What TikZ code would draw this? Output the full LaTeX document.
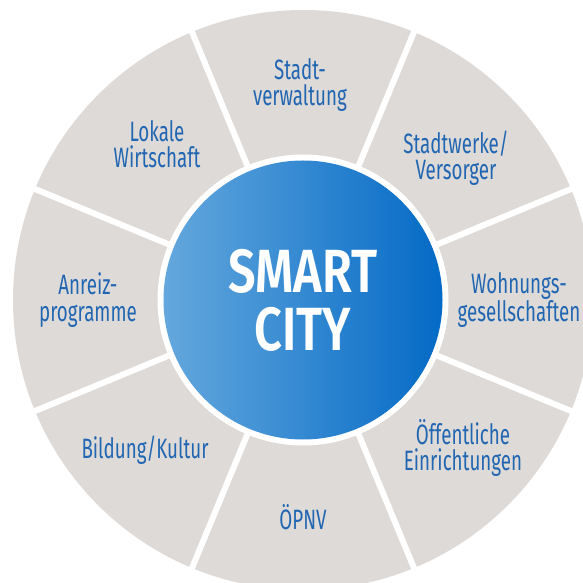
\documentclass[tikz,border=0pt]{standalone}
\usepackage{fontspec}
\setmainfont[FakeStretch=0.67]{Fira Sans}
\newfontfamily\boldcond[FakeStretch=0.80]{Fira Sans SemiBold}
\definecolor{seggray}{RGB}{221,218,215}
\definecolor{labelblue}{RGB}{33,102,178}
\definecolor{gradleft}{RGB}{100,168,221}
\definecolor{gradright}{RGB}{4,106,198}
\tikzset{
  seglabel/.style={text=labelblue, align=center, inner sep=0pt,
    font={\fontsize{28}{26.5}\selectfont}},
  centerlabel/.style={text=white, align=center, inner sep=0pt,
    font={\boldcond\fontsize{61}{58}\selectfont}},
  sepline/.style={white, line width=6pt}
}
\begin{document}
\begin{tikzpicture}[x=1pt,y=1pt]
\useasboundingbox (-303,-283) rectangle (280,300);
\clip (-303,-283) rectangle (280,300);
\fill[seggray] (0,0) circle (290);
\foreach \a in {22.5,67.5,...,337.5}{
  \draw[sepline] (0,0) -- (\a:310);
}
\fill[white] (0,0) circle (145.5);
\shade[left color=gradleft, right color=gradright] (0,0) circle (139.5);
\node[centerlabel] (center) at (0,0) {SMART\\CITY};
\node[seglabel] (s1) at (-3,215) {Stadt-\\verwaltung};
\node[seglabel] (s2) at (153,142) {Stadtwerke/\\Versorger};
\node[seglabel] (s3) at (216,0) {Wohnungs-\\gesellschaften};
\node[seglabel] (s4) at (160,-148) {Öffentliche\\Einrichtungen};
\node[seglabel] (s5) at (0,-217) {ÖPNV};
\node[seglabel] (s6) at (-158,-150) {Bildung/Kultur};
\node[seglabel] (s7) at (-215,0) {Anreiz-\\programme};
\node[seglabel] (s8) at (-146,156) {Lokale\\Wirtschaft};
\end{tikzpicture}
\end{document}
